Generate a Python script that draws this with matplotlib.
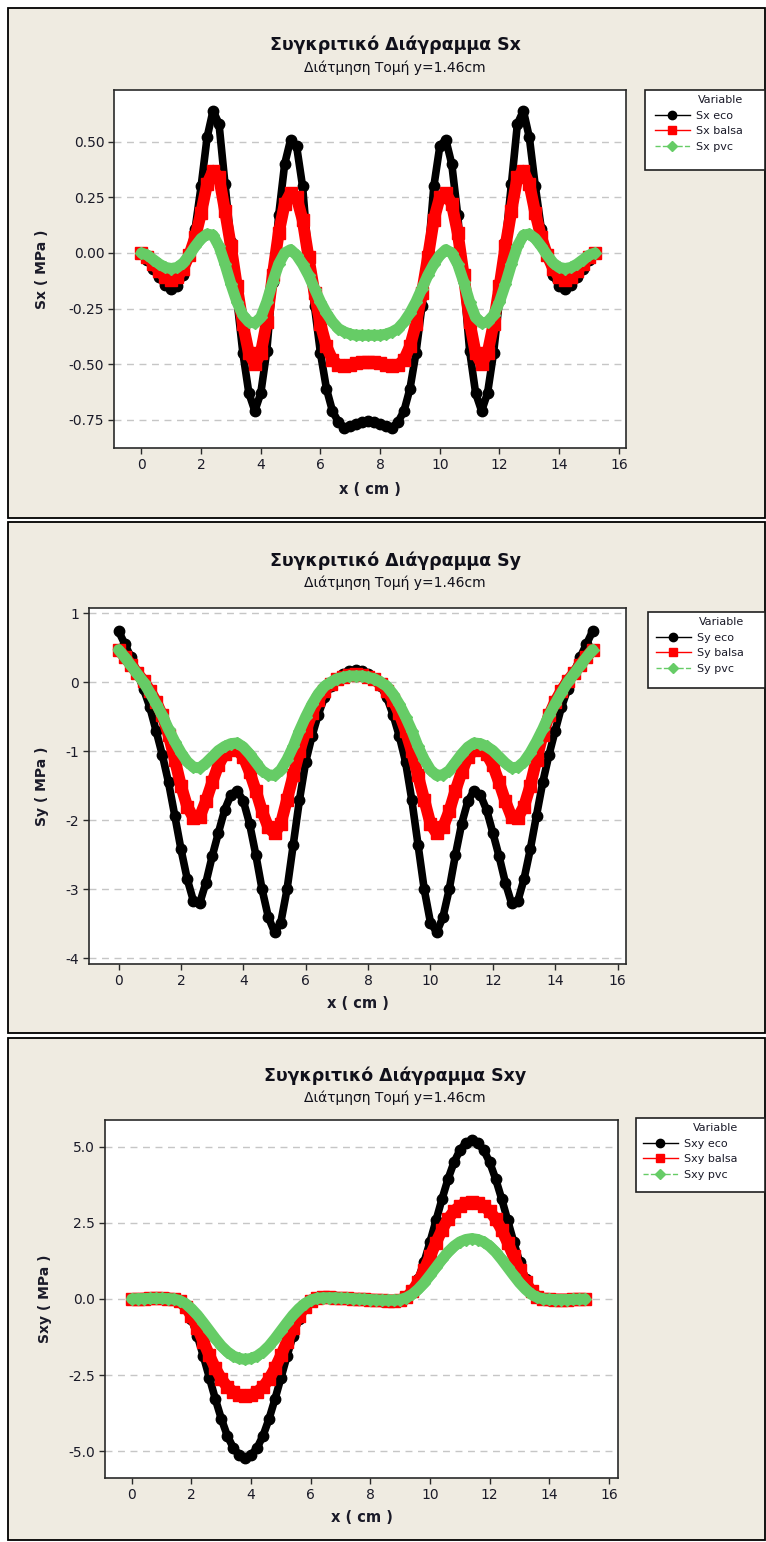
import matplotlib
matplotlib.use("Agg")
import matplotlib.pyplot as plt
from matplotlib.lines import Line2D
from matplotlib.patches import Rectangle

plt.rcParams['font.family'] = ['DejaVu Sans']
plt.rcParams['axes.unicode_minus'] = False

# ---------------- data ----------------
x_cm = [0.0, 0.2, 0.4, 0.6, 0.8, 1.0, 1.2, 1.4, 1.6, 1.8, 2.0, 2.2, 2.4, 2.6, 2.8,
        3.0, 3.2, 3.4, 3.6, 3.8, 4.0, 4.2, 4.4, 4.6, 4.8, 5.0, 5.2, 5.4, 5.6, 5.8,
        6.0, 6.2, 6.4, 6.6, 6.8, 7.0, 7.2, 7.4, 7.6, 7.8, 8.0, 8.2, 8.4, 8.6, 8.8,
        9.0, 9.2, 9.4, 9.6, 9.8, 10.0, 10.2, 10.4, 10.6, 10.8, 11.0, 11.2, 11.4, 11.6, 11.8,
        12.0, 12.2, 12.4, 12.6, 12.8, 13.0, 13.2, 13.4, 13.6, 13.8, 14.0, 14.2, 14.4, 14.6, 14.8,
        15.0, 15.2]

sx_eco = [0.00, -0.03, -0.07, -0.11, -0.145, -0.16, -0.15, -0.10, -0.01, 0.11, 0.30, 0.52, 0.64,
          0.58, 0.31, 0.05, -0.21, -0.45, -0.63, -0.71, -0.63, -0.44, -0.13, 0.17, 0.40, 0.51, 0.48,
          0.30, -0.02, -0.24, -0.45, -0.61, -0.71, -0.76, -0.785, -0.78, -0.77, -0.76, -0.755,
          -0.76, -0.77, -0.78, -0.785, -0.76, -0.71, -0.61, -0.45, -0.24, -0.02, 0.30, 0.48, 0.51,
          0.40, 0.17, -0.13, -0.44, -0.63, -0.71, -0.63, -0.45, -0.21, 0.05, 0.31, 0.58, 0.64, 0.52,
          0.30, 0.11, -0.01, -0.10, -0.15, -0.16, -0.145, -0.11, -0.07, -0.03, 0.00]
sx_balsa = [0.00, -0.02, -0.05, -0.08, -0.11, -0.12, -0.11, -0.07, -0.01, 0.07, 0.18, 0.31, 0.37,
            0.34, 0.19, 0.03, -0.15, -0.32, -0.45, -0.50, -0.45, -0.31, -0.10, 0.09, 0.22, 0.27, 0.25,
            0.15, -0.02, -0.18, -0.32, -0.42, -0.48, -0.505, -0.51, -0.505, -0.495, -0.49, -0.49,
            -0.49, -0.495, -0.505, -0.51, -0.505, -0.48, -0.42, -0.32, -0.18, -0.02, 0.15, 0.25, 0.27,
            0.22, 0.09, -0.10, -0.31, -0.45, -0.50, -0.45, -0.32, -0.15, 0.03, 0.19, 0.34, 0.37, 0.31,
            0.18, 0.07, -0.01, -0.07, -0.11, -0.12, -0.11, -0.08, -0.05, -0.02, 0.00]
sx_pvc = [0.00, -0.01, -0.03, -0.05, -0.065, -0.07, -0.065, -0.045, -0.01, 0.03, 0.065, 0.085, 0.08,
          0.03, -0.05, -0.14, -0.22, -0.28, -0.31, -0.315, -0.29, -0.22, -0.13, -0.05, 0.00, 0.015,
          -0.01, -0.05, -0.10, -0.16, -0.22, -0.27, -0.31, -0.34, -0.355, -0.365, -0.37, -0.37, -0.37,
          -0.37, -0.37, -0.365, -0.355, -0.34, -0.31, -0.27, -0.22, -0.16, -0.10, -0.05, -0.01, 0.015,
          0.00, -0.05, -0.13, -0.22, -0.29, -0.315, -0.31, -0.28, -0.22, -0.14, -0.05, 0.03, 0.08,
          0.085, 0.065, 0.03, -0.01, -0.045, -0.065, -0.07, -0.065, -0.05, -0.03, -0.01, 0.00]

sy_eco = [0.74, 0.55, 0.36, 0.14, -0.10, -0.36, -0.70, -1.05, -1.45, -1.93, -2.42, -2.85, -3.17,
          -3.20, -2.90, -2.52, -2.18, -1.85, -1.63, -1.57, -1.72, -2.05, -2.50, -3.00, -3.40, -3.62,
          -3.48, -3.00, -2.35, -1.70, -1.15, -0.78, -0.47, -0.22, -0.05, 0.05, 0.12, 0.16, 0.17,
          0.16, 0.12, 0.05, -0.05, -0.22, -0.47, -0.78, -1.15, -1.70, -2.35, -3.00, -3.48, -3.62,
          -3.40, -3.00, -2.50, -2.05, -1.72, -1.57, -1.63, -1.85, -2.18, -2.52, -2.90, -3.20, -3.17,
          -2.85, -2.42, -1.93, -1.45, -1.05, -0.70, -0.36, -0.10, 0.14, 0.36, 0.55, 0.74]
sy_balsa = [0.47, 0.37, 0.25, 0.13, 0.02, -0.12, -0.28, -0.48, -0.76, -1.12, -1.50, -1.80, -1.96,
            -1.95, -1.72, -1.45, -1.20, -1.04, -0.97, -0.98, -1.08, -1.30, -1.57, -1.87, -2.10, -2.19,
            -2.05, -1.70, -1.35, -1.00, -0.70, -0.45, -0.26, -0.12, -0.03, 0.04, 0.08, 0.11, 0.12,
            0.11, 0.08, 0.04, -0.03, -0.12, -0.26, -0.45, -0.70, -1.00, -1.35, -1.70, -2.05, -2.19,
            -2.10, -1.87, -1.57, -1.30, -1.08, -0.98, -0.97, -1.04, -1.20, -1.45, -1.72, -1.95, -1.96,
            -1.80, -1.50, -1.12, -0.76, -0.48, -0.28, -0.12, 0.02, 0.13, 0.25, 0.37, 0.47]
sy_pvc = [0.47, 0.36, 0.24, 0.12, 0.00, -0.15, -0.31, -0.48, -0.68, -0.86, -1.02, -1.15, -1.23,
          -1.24, -1.17, -1.08, -0.99, -0.93, -0.89, -0.88, -0.94, -1.04, -1.16, -1.28, -1.34, -1.35,
          -1.27, -1.12, -0.93, -0.70, -0.50, -0.32, -0.17, -0.06, 0.00, 0.05, 0.07, 0.09, 0.09,
          0.09, 0.07, 0.05, 0.00, -0.06, -0.17, -0.32, -0.50, -0.70, -0.93, -1.12, -1.27, -1.35,
          -1.34, -1.28, -1.16, -1.04, -0.94, -0.88, -0.89, -0.93, -0.99, -1.08, -1.17, -1.24, -1.23,
          -1.15, -1.02, -0.86, -0.68, -0.48, -0.31, -0.15, 0.00, 0.12, 0.24, 0.36, 0.47]

sxy_eco = [0.00, 0.00, 0.01, 0.02, 0.03, 0.03, 0.02, -0.01, -0.05, -0.25, -0.65, -1.22, -1.88,
           -2.58, -3.28, -3.93, -4.48, -4.88, -5.12, -5.20, -5.12, -4.88, -4.48, -3.93, -3.28, -2.58,
           -1.88, -1.22, -0.65, -0.25, -0.03, 0.04, 0.06, 0.06, 0.05, 0.04, 0.03, 0.015, 0.00,
           -0.015, -0.03, -0.04, -0.05, -0.06, -0.06, -0.04, 0.03, 0.25, 0.65, 1.22, 1.88, 2.58,
           3.28, 3.93, 4.48, 4.88, 5.12, 5.20, 5.12, 4.88, 4.48, 3.93, 3.28, 2.58, 1.88, 1.22,
           0.65, 0.25, 0.05, 0.01, -0.02, -0.03, -0.03, -0.02, -0.01, 0.00, 0.00]
sxy_balsa = [0.00, 0.00, 0.01, 0.02, 0.02, 0.02, 0.01, 0.00, -0.07, -0.25, -0.55, -0.95, -1.40,
             -1.85, -2.27, -2.62, -2.88, -3.05, -3.15, -3.18, -3.15, -3.05, -2.88, -2.62, -2.27, -1.85,
             -1.40, -0.95, -0.55, -0.25, -0.05, 0.03, 0.05, 0.05, 0.04, 0.03, 0.02, 0.01, 0.00,
             -0.01, -0.02, -0.03, -0.04, -0.05, -0.05, -0.03, 0.05, 0.25, 0.55, 0.95, 1.40, 1.85,
             2.27, 2.62, 2.88, 3.05, 3.15, 3.18, 3.15, 3.05, 2.88, 2.62, 2.27, 1.85, 1.40, 0.95,
             0.55, 0.25, 0.07, 0.00, -0.01, -0.02, -0.02, -0.02, -0.01, 0.00, 0.00]
sxy_pvc = [0.00, 0.01, 0.01, 0.02, 0.02, 0.02, 0.01, 0.00, -0.05, -0.15, -0.32, -0.53, -0.78,
           -1.04, -1.30, -1.54, -1.73, -1.87, -1.95, -1.98, -1.95, -1.87, -1.73, -1.54, -1.30, -1.04,
           -0.78, -0.53, -0.32, -0.15, -0.04, 0.02, 0.04, 0.04, 0.04, 0.03, 0.02, 0.01, 0.00,
           -0.01, -0.02, -0.03, -0.04, -0.04, -0.04, -0.02, 0.04, 0.15, 0.32, 0.53, 0.78, 1.04,
           1.30, 1.54, 1.73, 1.87, 1.95, 1.98, 1.95, 1.87, 1.73, 1.54, 1.30, 1.04, 0.78, 0.53,
           0.32, 0.15, 0.05, 0.00, -0.01, -0.02, -0.02, -0.02, -0.01, -0.01, 0.00]

sx_names = ['Sx eco', 'Sx balsa', 'Sx pvc']
sy_names = ['Sy eco', 'Sy balsa', 'Sy pvc']
sxy_names = ['Sxy eco', 'Sxy balsa', 'Sxy pvc']

x_ticks = [0, 2, 4, 6, 8, 10, 12, 14, 16]
sx_yticks = [-0.75, -0.50, -0.25, 0.00, 0.25, 0.50]
sy_yticks = [-4, -3, -2, -1, 0, 1]
sxy_yticks = [-5.0, -2.5, 0.0, 2.5, 5.0]

subtitle = 'Διάτμηση Τομή y=1.46cm'

# ---------------- styling ----------------
W, H = 766, 1542
BEIGE = '#EFEBE1'
TXT = '#1A1A28'
GREEN = '#66CC66'
styles = [
    dict(color='black', marker='o', ms=7.5, lw=5.5, ls='-'),
    dict(color='#FF0000', marker='s', ms=8.5, lw=8.5, ls='-'),
    dict(color=GREEN, marker='D', ms=6.3, lw=8.0, ls='-'),
]
leg_ls = ['-', '-', '--']


def fx(px):
    return px / W


def fy(py):
    return 1 - py / H


fig = plt.figure(figsize=(W / 100, H / 100), dpi=100)
fig.patch.set_facecolor('white')

panels = [(8, 8, 765, 518), (8, 522, 765, 1033), (8, 1038, 765, 1540)]
for (l, t, r, b) in panels:
    fig.add_artist(Rectangle((fx(l), fy(b)), fx(r) - fx(l), fy(t) - fy(b),
                             transform=fig.transFigure, facecolor=BEIGE,
                             edgecolor='black', lw=1.3, zorder=-10))

charts = [
    dict(series=(sx_eco, sx_balsa, sx_pvc), names=sx_names,
         title='Συγκριτικό Διάγραμμα Sx', ylabel='Sx ( MPa )',
         box=(114, 90, 626, 448), xlim=(-0.92, 16.24), ylim=(-0.877, 0.733),
         yticks=sx_yticks, fmt='{:.2f}', title_y=45, sub_y=68, ylab_x=42,
         xlab_y=490, legbox=(645, 90, 765, 170), leg_x=653),
    dict(series=(sy_eco, sy_balsa, sy_pvc), names=sy_names,
         title='Συγκριτικό Διάγραμμα Sy', ylabel='Sy ( MPa )',
         box=(89, 608, 626, 964), xlim=(-0.95, 16.27), ylim=(-4.08, 1.075),
         yticks=sy_yticks, fmt='{:.0f}', title_y=561, sub_y=583, ylab_x=42,
         xlab_y=1003, legbox=(648, 612, 765, 688), leg_x=654),
    dict(series=(sxy_eco, sxy_balsa, sxy_pvc), names=sxy_names,
         title='Συγκριτικό Διάγραμμα Sxy', ylabel='Sxy ( MPa )',
         box=(105, 1120, 618, 1478), xlim=(-0.9, 16.3), ylim=(-5.87, 5.87),
         yticks=sxy_yticks, fmt='{:.1f}', title_y=1076, sub_y=1098, ylab_x=45,
         xlab_y=1518, legbox=(636, 1118, 765, 1192), leg_x=641),
]

for ch in charts:
    l, t, r, b = ch['box']
    ax = fig.add_axes([fx(l), fy(b), fx(r) - fx(l), fy(t) - fy(b)])
    ax.set_facecolor('white')
    for ys, st in zip(ch['series'], styles):
        ax.plot(x_cm, ys, color=st['color'], lw=st['lw'], ls=st['ls'],
                marker=st['marker'], ms=st['ms'], mec=st['color'], mfc=st['color'],
                solid_joinstyle='round', solid_capstyle='round')
    ax.set_xlim(*ch['xlim'])
    ax.set_ylim(*ch['ylim'])
    ax.set_xticks(x_ticks)
    ax.set_xticklabels([str(v) for v in x_ticks])
    ax.set_yticks(ch['yticks'])
    ax.set_yticklabels([ch['fmt'].format(v) for v in ch['yticks']])
    ax.yaxis.grid(True, color='#C6C6C6', lw=1.0, ls=(0, (5, 4)))
    ax.xaxis.grid(False)
    ax.set_axisbelow(True)
    for sp in ax.spines.values():
        sp.set_color('#2A2A2A')
        sp.set_linewidth(1.2)
    ax.tick_params(direction='out', length=4, width=1, colors='#2A2A2A',
                   labelcolor=TXT, labelsize=10, pad=3, top=False, right=False)

    fig.text(fx(395), fy(ch['title_y']), ch['title'], ha='center', va='center',
             fontsize=12.5, fontweight='bold', color='#10101A')
    fig.text(fx(395), fy(ch['sub_y']), subtitle, ha='center', va='center',
             fontsize=10, color='#10101A')
    fig.text(fx(ch['ylab_x']), fy((t + b) / 2), ch['ylabel'], ha='center', va='center',
             rotation=90, fontsize=10, fontweight='bold', color=TXT)
    fig.text(fx((l + r) / 2), fy(ch['xlab_y']), 'x ( cm )', ha='center', va='center',
             fontsize=10.5, fontweight='bold', color=TXT)

    # legend
    bl, bt, br, bb = ch['legbox']
    fig.add_artist(Rectangle((fx(bl), fy(bb)), fx(br) - fx(bl), fy(bt) - fy(bb),
                             transform=fig.transFigure, facecolor='white',
                             edgecolor='#202020', lw=1.2, zorder=1))
    handles = [Line2D([], [], color=st['color'], lw=1.0, ls=lls, marker=st['marker'],
                      ms=6.0 if st['marker'] != 'D' else 5.0, mfc=st['color'], mec=st['color'])
               for st, lls in zip(styles, leg_ls)]
    leg = fig.legend(handles, ch['names'], title='Variable', loc='upper left',
                     bbox_to_anchor=(fx(ch['leg_x']), fy(bt + 3)), borderaxespad=0,
                     frameon=False, fontsize=8, title_fontsize=8, borderpad=0.2,
                     handlelength=3.1, handletextpad=0.6, labelspacing=0.5,
                     alignment='right')
    leg.set_zorder(2)
    for txt in leg.get_texts():
        txt.set_color(TXT)
    leg.get_title().set_color(TXT)

fig.savefig('out.png', dpi=100, facecolor='white')
